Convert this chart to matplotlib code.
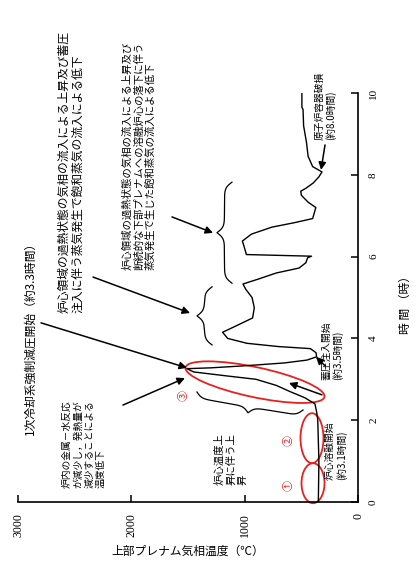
import numpy as np
import matplotlib.pyplot as plt
from matplotlib.patches import Ellipse
from matplotlib.transforms import IdentityTransform

plt.rcParams['font.family'] = ['Noto Sans CJK JP', 'DejaVu Sans']

# 時間 (時) と上部プレナム気相温度 (℃)
time_h = [0.0, 1.0, 2.0, 2.2, 2.4, 2.55, 2.7, 2.85, 3.0, 3.08, 3.18, 3.26,
          3.28, 3.33, 3.4, 3.47, 3.55, 3.65, 3.75, 3.8, 3.88, 4.0, 4.15, 4.3,
          4.5, 4.75, 5.0, 5.2, 5.33, 5.45, 5.6, 5.72, 5.85, 5.97, 6.01, 6.05,
          6.2, 6.38, 6.55, 6.72, 6.83, 6.93, 7.2, 7.33, 7.5, 7.6, 7.67, 7.8,
          7.95, 8.07, 8.2, 8.45, 8.8, 9.2, 9.6, 9.65, 10.0]
temp_c = [350, 345, 355, 365, 380, 470, 600, 720, 900, 1150, 1450, 1510,
          1300, 1000, 650, 450, 365, 370, 420, 700, 980, 1150, 1195, 1080,
          930, 915, 935, 990, 1015, 880, 720, 520, 460, 445, 410, 985,
          1000, 1020, 940, 760, 560, 400, 372, 440, 500, 505, 460, 395,
          345, 318, 400, 440, 455, 480, 485, 495, 495]

time_ticks = [0, 2, 4, 6, 8, 10]
temp_ticks = [0, 1000, 2000, 3000]

fig = plt.figure(figsize=(4.17, 5.75), dpi=100)
ax = fig.add_axes([18 / 417, 73 / 575, 340 / 417, 409 / 575])

ax.plot(temp_c, time_h, color='black', lw=1.0)
ax.set_xlim(3000, 0)
ax.set_ylim(0, 10)

for side in ['left', 'top']:
    ax.spines[side].set_visible(False)
for side in ['right', 'bottom']:
    ax.spines[side].set_linewidth(1.2)

ax.yaxis.tick_right()
ax.set_yticks(time_ticks)
ax.set_yticklabels([str(v) for v in time_ticks], rotation=90, va='center',
                   fontsize=8, family='Liberation Serif')
ax.set_xticks(temp_ticks)
ax.set_xticklabels([str(v) for v in temp_ticks], rotation=90, ha='center',
                   fontsize=8.5, family='Liberation Serif')
ax.tick_params(direction='in', length=5, width=1.1, pad=8)

fig.text(405 / 417, 1 - 302 / 575, '時 間 （時）', rotation=90,
         ha='center', va='center', fontsize=8.5)
fig.text(188 / 417, 1 - 551 / 575, '上部プレナム気相温度（℃）',
         ha='center', va='center', fontsize=8.5)


def note(T, t, s, fs=8, ls=1.0, color='black'):
    ax.text(T, t, s, rotation=90, ha='center', va='bottom',
            multialignment='left', fontsize=fs, linespacing=ls,
            color=color, clip_on=False)


def arrow(tail, tip):
    ax.annotate('', xy=tip, xytext=tail, annotation_clip=False,
                arrowprops=dict(arrowstyle='-|>', color='black', lw=1.1,
                                mutation_scale=11, shrinkA=0, shrinkB=0))


def brace(p1, p2, depth, lw=0.9, beta=0.35):
    a = ax.transData.transform(p1)
    b = ax.transData.transform(p2)
    v = b - a
    L = np.hypot(*v)
    u = v / L
    n = np.array([-u[1], u[0]])
    xh = np.linspace(0, L / 2, 120)
    yh = 1 / (1 + np.exp(-beta * xh)) + 1 / (1 + np.exp(-beta * (xh - L / 2)))
    x = np.concatenate([xh, L - xh[-2::-1]])
    y = np.concatenate([yh, yh[-2::-1]]) - 0.5
    pts = a + np.outer(x, u) + np.outer(depth * y, n)
    ax.plot(pts[:, 0], pts[:, 1], color='black', lw=lw,
            transform=IdentityTransform(), clip_on=False)


def ring(T, t, w, h, angle=0):
    cx, cy = ax.transData.transform((T, t))
    ax.add_patch(Ellipse((cx, cy), w, h, angle=angle, fill=False,
                         edgecolor='#e8201e', lw=1.3,
                         transform=IdentityTransform(), clip_on=False))


# 赤い楕円と番号
ring(397, 0.46, 23, 40)
ring(406, 1.56, 23, 50)
ring(909, 2.93, 142, 30, angle=-12)
note(610, 0.28, '①', fs=8, color='#e8201e')
note(610, 1.38, '②', fs=8, color='#e8201e')
note(1540, 2.48, '③', fs=8, color='#e8201e')

# 注記
note(2894, 1.64, '1次冷却系強制減圧開始（約3.3時間）', fs=8.5)
arrow((2797, 4.38), (1509, 3.28))

note(2420, 0.34, '炉内の金属－水反応\nが減少し，発熱量が\n減少することによる\n温度低下',
     fs=7, ls=1.15)
arrow((2074, 2.37), (1527, 3.03))

note(1121, 0.42, '炉心温度上\n昇に伴う上\n昇', fs=7.5, ls=1.15)
brace((1421, 2.69), (485, 2.25), -12)

note(2532, 4.62, '炉心領域の過熱状態の気相の流入による上昇及び蓄圧\n'
     '注入に伴う蒸気発生で飽和蒸気の流入による低下', fs=8.5, ls=1.05)
arrow((2338, 5.50), (1482, 4.62))
brace((1288, 3.84), (1288, 5.26), 15)

note(1932, 5.67, '炉心領域の過熱状態の気相の流入による上昇及び\n'
     '断続的な下部プレナムへの溶融炉心の落下に伴う\n'
     '蒸気発生で生じた飽和蒸気の流入による低下', fs=7.5, ls=1.15)
arrow((1641, 6.97), (1279, 6.58))
brace((1112, 5.35), (1112, 7.82), 15)

note(225, 2.98, '蓄圧注入開始\n(約3.5時間)', fs=7, ls=1.1)
arrow((291, 3.33), (371, 3.55))

note(195, 0.54, '炉心溶融開始\n(約3.1時間)', fs=7, ls=1.1)

note(285, 8.85, '原子炉容器破損\n(約8.0時間)', fs=7, ls=1.1)
arrow((291, 8.73), (326, 8.12))

arrow((318, 2.62), (609, 2.91))

fig.savefig('out.png', dpi=100)
